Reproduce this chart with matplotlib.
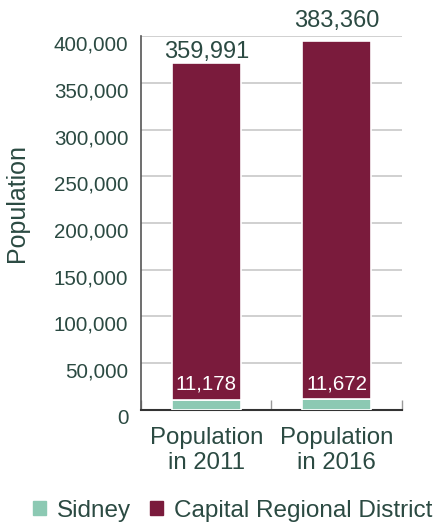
import matplotlib
matplotlib.use("Agg")
import matplotlib.pyplot as plt
import matplotlib.transforms as mtransforms
from matplotlib.ticker import FuncFormatter, FixedLocator
from matplotlib.patches import Patch

categories = ["Population\nin 2011", "Population\nin 2016"]
sidney = [11178, 11672]
crd = [359991, 383360]
series_names = ["Sidney", "Capital Regional District"]
yticks = [0, 50000, 100000, 150000, 200000, 250000, 300000, 350000, 400000]

GREEN = "#8cc9b3"
MAROON = "#7a1b3c"
TEXT = "#2b4a42"

plt.rcParams['font.family'] = ['Liberation Sans', 'DejaVu Sans']

fig = plt.figure(figsize=(4.33, 5.22), dpi=100)
ax = fig.add_axes([0.3256, 0.2146, 0.6028, 0.7164])

x = list(range(len(categories)))
ax.bar(x, sidney, width=0.53, color=GREEN, edgecolor="white", linewidth=1.2, zorder=3)
ax.bar(x, crd, bottom=sidney, width=0.53, color=MAROON, edgecolor="white", linewidth=1.2, zorder=3)

ax.set_xlim(-0.5, 1.5)
ax.set_ylim(0, 400000)
ax.set_yticks(yticks)
ax.yaxis.set_major_formatter(FuncFormatter(lambda v, p: f"{int(v):,}"))
ax.tick_params(axis='y', length=0, pad=9, labelsize=14.8, labelcolor=TEXT)
ax.grid(axis='y', color="#c8c8c8", linewidth=1.2, zorder=0)
ax.set_axisbelow(True)

shift = mtransforms.ScaledTranslation(0, -7 / 100, fig.dpi_scale_trans)
for lbl in ax.get_yticklabels():
    lbl.set_transform(lbl.get_transform() + shift)

ax.set_xticks(x)
ax.set_xticklabels(categories, fontsize=17.3, color=TEXT, linespacing=1.2)
ax.tick_params(axis='x', which='major', length=0, pad=12)
ax.xaxis.set_minor_locator(FixedLocator([-0.5, 0.5, 1.5]))
ax.tick_params(axis='x', which='minor', direction='in', length=7, color="#999999", width=1)

for s in ["top", "right"]:
    ax.spines[s].set_visible(False)
ax.spines["left"].set_color("#555555")
ax.spines["left"].set_linewidth(1.2)
ax.spines["bottom"].set_color("#333333")
ax.spines["bottom"].set_linewidth(1.5)

ax.set_ylabel("Population", fontsize=18, color=TEXT)
ax.yaxis.set_label_coords(-0.43, 0.553)

top_offsets = [0, 6]
for i in x:
    total = sidney[i] + crd[i]
    ax.annotate(f"{crd[i]:,}", (i, total), xytext=(0, top_offsets[i]), textcoords="offset points",
                ha="center", va="bottom", fontsize=17, color=TEXT)
    ax.annotate(f"{sidney[i]:,}", (i, sidney[i]), xytext=(0, 4), textcoords="offset points",
                ha="center", va="bottom", fontsize=14.8, color="white", zorder=5)

handles = [Patch(color=GREEN), Patch(color=MAROON)]
fig.legend(handles, series_names, loc="center", bbox_to_anchor=(0.537, 0.022), ncol=2,
           frameon=False, fontsize=17.5, labelcolor=TEXT, handlelength=0.53, handleheight=0.53,
           handletextpad=0.45, columnspacing=0.8)

fig.savefig("out.png", dpi=100)
